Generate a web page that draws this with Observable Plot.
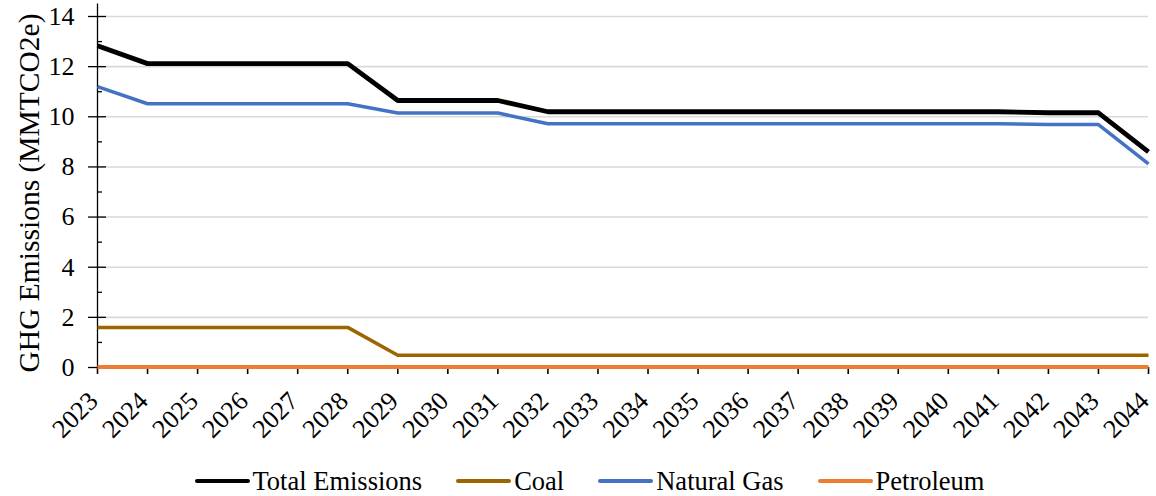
<!DOCTYPE html>
<html>
<head>
<meta charset="utf-8">
<script src="https://cdn.jsdelivr.net/npm/d3@7"></script>
<script src="https://cdn.jsdelivr.net/npm/@observablehq/plot@0.6"></script>
<style>
  html, body { margin: 0; padding: 0; background: #fff; font-family: 'Liberation Serif', serif; }
  #chart { width: 1156px; }
  #chart svg text { font-family: 'Liberation Serif', serif; }
  .legend { display: flex; justify-content: center; align-items: center; font-family: 'Liberation Serif', serif; font-size: 26.5px; color: #000; height: 58px; padding-left: 23px; box-sizing: border-box; width: 1156px; }
  .legend .item { display: flex; align-items: center; margin: 0 17px; white-space: nowrap; }
  .legend .sw { display: inline-block; width: 55px; margin-right: 3px; border-radius: 2px; }
</style>
</head>
<body>
<div id="chart"></div>
<script>
const years = [2023,2024,2025,2026,2027,2028,2029,2030,2031,2032,2033,2034,2035,2036,2037,2038,2039,2040,2041,2042,2043,2044];
const seriesNames = ["Total Emissions", "Coal", "Natural Gas", "Petroleum"];
const seriesColors = ["#000000", "#9C6500", "#4472C4", "#ED7D31"];
const seriesWidths = [4.8, 3.5, 3.5, 3.8];
const totalEmissions = [12.83,12.12,12.12,12.12,12.12,12.12,10.65,10.65,10.65,10.2,10.2,10.2,10.2,10.2,10.2,10.2,10.2,10.2,10.2,10.16,10.16,8.6];
const coal = [1.6,1.6,1.6,1.6,1.6,1.6,0.49,0.49,0.49,0.49,0.49,0.49,0.49,0.49,0.49,0.49,0.49,0.49,0.49,0.49,0.49,0.49];
const naturalGas = [11.2,10.52,10.52,10.52,10.52,10.52,10.15,10.15,10.15,9.72,9.72,9.72,9.72,9.72,9.72,9.72,9.72,9.72,9.72,9.69,9.69,8.12];
const petroleum = [0.02,0.02,0.02,0.02,0.02,0.02,0.02,0.02,0.02,0.02,0.02,0.02,0.02,0.02,0.02,0.02,0.02,0.02,0.02,0.02,0.02,0.02];
const yMajor = [0,2,4,6,8,10,12,14];
const yMinor = [1,3,5,7,9,11,13];
const yLabel = "GHG Emissions (MMTCO2e)";

const seriesValues = [totalEmissions, coal, naturalGas, petroleum];
const rows = [];
seriesNames.forEach((name, i) => {
  years.forEach((yr, j) => rows.push({series: name, year: yr, value: seriesValues[i][j]}));
});

const font = "'Liberation Serif', serif";

const plot = Plot.plot({
  width: 1156,
  height: 452,
  marginLeft: 97,
  marginRight: 8,
  marginTop: 16,
  marginBottom: 85,
  style: {fontFamily: font, fontSize: "26px", color: "#000", background: "#fff"},
  x: {type: "linear", domain: [2023, 2044]},
  y: {domain: [0, 14]},
  marks: [
    Plot.ruleY(yMajor.filter(d => d > 0), {stroke: "#d9d9d9", strokeWidth: 1.6}),
    Plot.ruleX([2023], {y1: 0, y2: 14.5, stroke: "#000", strokeWidth: 1.3}),
    Plot.axisY({ticks: yMajor, tickSize: 9, tickPadding: 14, fontSize: 26, fontFamily: font, tickFormat: d => d, label: null, strokeWidth: 1.3}),
    Plot.axisY({ticks: yMajor, tickSize: -9, tickFormat: () => "", label: null, strokeWidth: 1.3}),
    Plot.axisY({ticks: yMinor, tickSize: -5, tickFormat: () => "", label: null, strokeWidth: 1.3}),
    Plot.axisX({ticks: years, tickSize: 7, tickFormat: () => "", label: null, strokeWidth: 1.6}),
    Plot.text(years, {x: d => d, y: 0, text: d => String(d), rotate: -45, textAnchor: "end", lineAnchor: "bottom", dx: 2, dy: 35, fontSize: 26, fontFamily: font, fill: "#000"}),
    Plot.text([yLabel], {text: d => d, frameAnchor: "left", rotate: -90, textAnchor: "middle", lineAnchor: "bottom", dx: -59, dy: 1, fontSize: 29.5, fontFamily: font, fill: "#000"}),
    ...seriesNames.map((name, i) =>
      Plot.line(rows.filter(r => r.series === name), {x: "year", y: "value", stroke: seriesColors[i], strokeWidth: seriesWidths[i], strokeLinejoin: "round", strokeLinecap: "butt"})
    ).reverse()
  ]
});
document.getElementById("chart").appendChild(plot);

const legend = document.createElement("div");
legend.className = "legend";
seriesNames.forEach((name, i) => {
  const item = document.createElement("span");
  item.className = "item";
  const sw = document.createElement("span");
  sw.className = "sw";
  sw.style.height = seriesWidths[i] + "px";
  sw.style.background = seriesColors[i];
  item.appendChild(sw);
  item.appendChild(document.createTextNode(name));
  legend.appendChild(item);
});
document.getElementById("chart").appendChild(legend);
</script>
</body>
</html>
